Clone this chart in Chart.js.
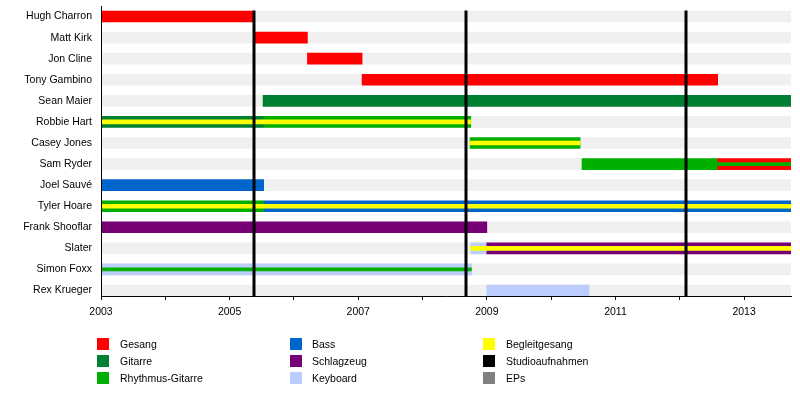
<!DOCTYPE html>
<html>
<head>
<meta charset="utf-8">
<script src="https://cdn.jsdelivr.net/npm/chart.js@4.4.0/dist/chart.umd.min.js"></script>
<style>
  html, body { margin: 0; padding: 0; background: #fff; }
  #wrap { position: relative; width: 800px; height: 396px; }
</style>
</head>
<body>
<div id="wrap"><canvas id="c" width="800" height="396"></canvas></div>
<script>
// ---- data ----
const members = ['Hugh Charron', 'Matt Kirk', 'Jon Cline', 'Tony Gambino', 'Sean Maier', 'Robbie Hart',
  'Casey Jones', 'Sam Ryder', 'Joel Sauvé', 'Tyler Hoare', 'Frank Shooflar', 'Slater', 'Simon Foxx', 'Rex Krueger'];
const startYear = 2003;
const endYear = 2013.73;
const yearTicks = [2003, 2004, 2005, 2006, 2007, 2008, 2009, 2010, 2011, 2012, 2013];
const studioAlbums = [2005.38, 2008.68, 2012.09];

// [member, start, end]
const gesang = [['Hugh Charron', 2003, 2005.38], ['Matt Kirk', 2005.38, 2006.21], ['Jon Cline', 2006.21, 2007.06],
  ['Tony Gambino', 2007.06, 2012.59], ['Sam Ryder', 2012.59, 2013.73]];
const gitarre = [['Sean Maier', 2005.52, 2013.73], ['Robbie Hart', 2003, 2005.52]];
const rhythmus = [['Robbie Hart', 2005.52, 2008.75], ['Casey Jones', 2008.74, 2010.45], ['Sam Ryder', 2010.48, 2012.59],
  ['Tyler Hoare', 2003, 2005.53]];
const bass = [['Joel Sauvé', 2003, 2005.53], ['Tyler Hoare', 2005.53, 2013.73]];
const schlagzeug = [['Frank Shooflar', 2003, 2009.0], ['Slater', 2009.0, 2013.73]];
const keyboard = [['Slater', 2008.75, 2009.0], ['Simon Foxx', 2003, 2008.76], ['Rex Krueger', 2009.0, 2010.59]];
// secondary roles (thin stripes)
const begleitgesang = [['Robbie Hart', 2003, 2008.75], ['Casey Jones', 2008.74, 2010.45], ['Tyler Hoare', 2003, 2013.73],
  ['Slater', 2008.75, 2013.73]];
const rhythmusThin = [['Sam Ryder', 2012.59, 2013.73], ['Simon Foxx', 2003, 2008.76]];

const legendItems = [
  ['Gesang', '#ff0000'], ['Gitarre', '#008033'], ['Rhythmus-Gitarre', '#00b000'],
  ['Bass', '#0066cc'], ['Schlagzeug', '#770077'], ['Keyboard', '#bbccff'],
  ['Begleitgesang', '#ffff00'], ['Studioaufnahmen', '#000000'], ['EPs', '#808080']
];

// ---- build ----
const FONT = "'Liberation Sans', Arial, sans-serif";
const toData = arr => arr.map(([m, a, b]) => ({ x: [a, b], y: members.indexOf(m) }));
const mk = (label, arr, color, thick, order) => ({
  label, data: toData(arr), backgroundColor: color, barThickness: thick, order,
  grouped: false, borderWidth: 0, borderSkipped: false
});

const datasets = [
  mk('bg', members.map(m => [m, startYear, endYear]), '#f0f0f0', 11, 5),
  mk('Gesang', gesang, '#ff0000', 11, 3),
  mk('Gitarre', gitarre, '#008033', 11, 3),
  mk('Rhythmus-Gitarre', rhythmus, '#00b000', 11, 3),
  mk('Bass', bass, '#0066cc', 11, 3),
  mk('Schlagzeug', schlagzeug, '#770077', 11, 3),
  mk('Keyboard', keyboard, '#bbccff', 11, 3),
  mk('Begleitgesang', begleitgesang, '#ffff00', 4, 1),
  mk('Rhythmus-Gitarre (2)', rhythmusThin, '#00b000', 3, 1)
];

const linesPlugin = {
  id: 'studioLines',
  afterDatasetsDraw(chart) {
    const { ctx, chartArea, scales: { x, y } } = chart;
    ctx.save();
    ctx.strokeStyle = '#000';
    ctx.lineWidth = 3;
    const top = y.getPixelForValue(0) - 6;
    studioAlbums.forEach(v => {
      const px = Math.round(x.getPixelForValue(v));
      ctx.beginPath();
      ctx.moveTo(px, top);
      ctx.lineTo(px, chartArea.bottom);
      ctx.stroke();
    });
    ctx.restore();
  }
};

const legendPlugin = {
  id: 'customLegend',
  afterDraw(chart) {
    const { ctx } = chart;
    const colSq = [97, 290, 483];
    const colTx = [120, 312, 506];
    const rowTop = [338, 355, 372];
    ctx.save();
    ctx.font = '10.5px ' + FONT;
    ctx.textBaseline = 'middle';
    ctx.textAlign = 'left';
    legendItems.forEach(([name, color], i) => {
      const c = Math.floor(i / 3), r = i % 3;
      ctx.fillStyle = color;
      ctx.fillRect(colSq[c], rowTop[r], 12, 12);
      ctx.fillStyle = '#000';
      ctx.fillText(name, colTx[c], rowTop[r] + 7);
    });
    ctx.restore();
  }
};

new Chart(document.getElementById('c'), {
  type: 'bar',
  data: { datasets },
  options: {
    indexAxis: 'y',
    responsive: false,
    animation: false,
    layout: { padding: { top: 6, right: 9, bottom: 80, left: 0 } },
    plugins: { legend: { display: false }, tooltip: { enabled: false } },
    scales: {
      x: {
        type: 'linear', min: startYear, max: endYear, offset: false,
        afterBuildTicks: s => { s.ticks = yearTicks.map(v => ({ value: v })); },
        afterFit: s => { s.height = 20; s.paddingLeft = 0; s.paddingRight = 0; },
        ticks: {
          autoSkip: false, maxRotation: 0, padding: 6, color: '#000',
          font: { family: FONT, size: 10.5 },
          callback: v => (v % 2 === 1 ? String(v) : '')
        },
        grid: { display: true, drawOnChartArea: false, drawTicks: true, tickLength: 4, color: '#000' },
        border: { display: true, color: '#000', width: 1, z: 1 }
      },
      y: {
        type: 'linear', min: -0.5, max: 13.26, reverse: true, offset: false,
        afterBuildTicks: s => { s.ticks = members.map((_, i) => ({ value: i })); },
        afterFit: s => { s.width = 101; s.paddingTop = 0; s.paddingBottom = 0; },
        ticks: {
          autoSkip: false, padding: 9, color: '#000',
          font: { family: FONT, size: 10.5 },
          callback: v => members[v]
        },
        grid: { display: false, drawOnChartArea: false, drawTicks: false },
        border: { display: true, color: '#000', width: 1, z: 1 }
      }
    }
  },
  plugins: [linesPlugin, legendPlugin]
});
</script>
</body>
</html>
